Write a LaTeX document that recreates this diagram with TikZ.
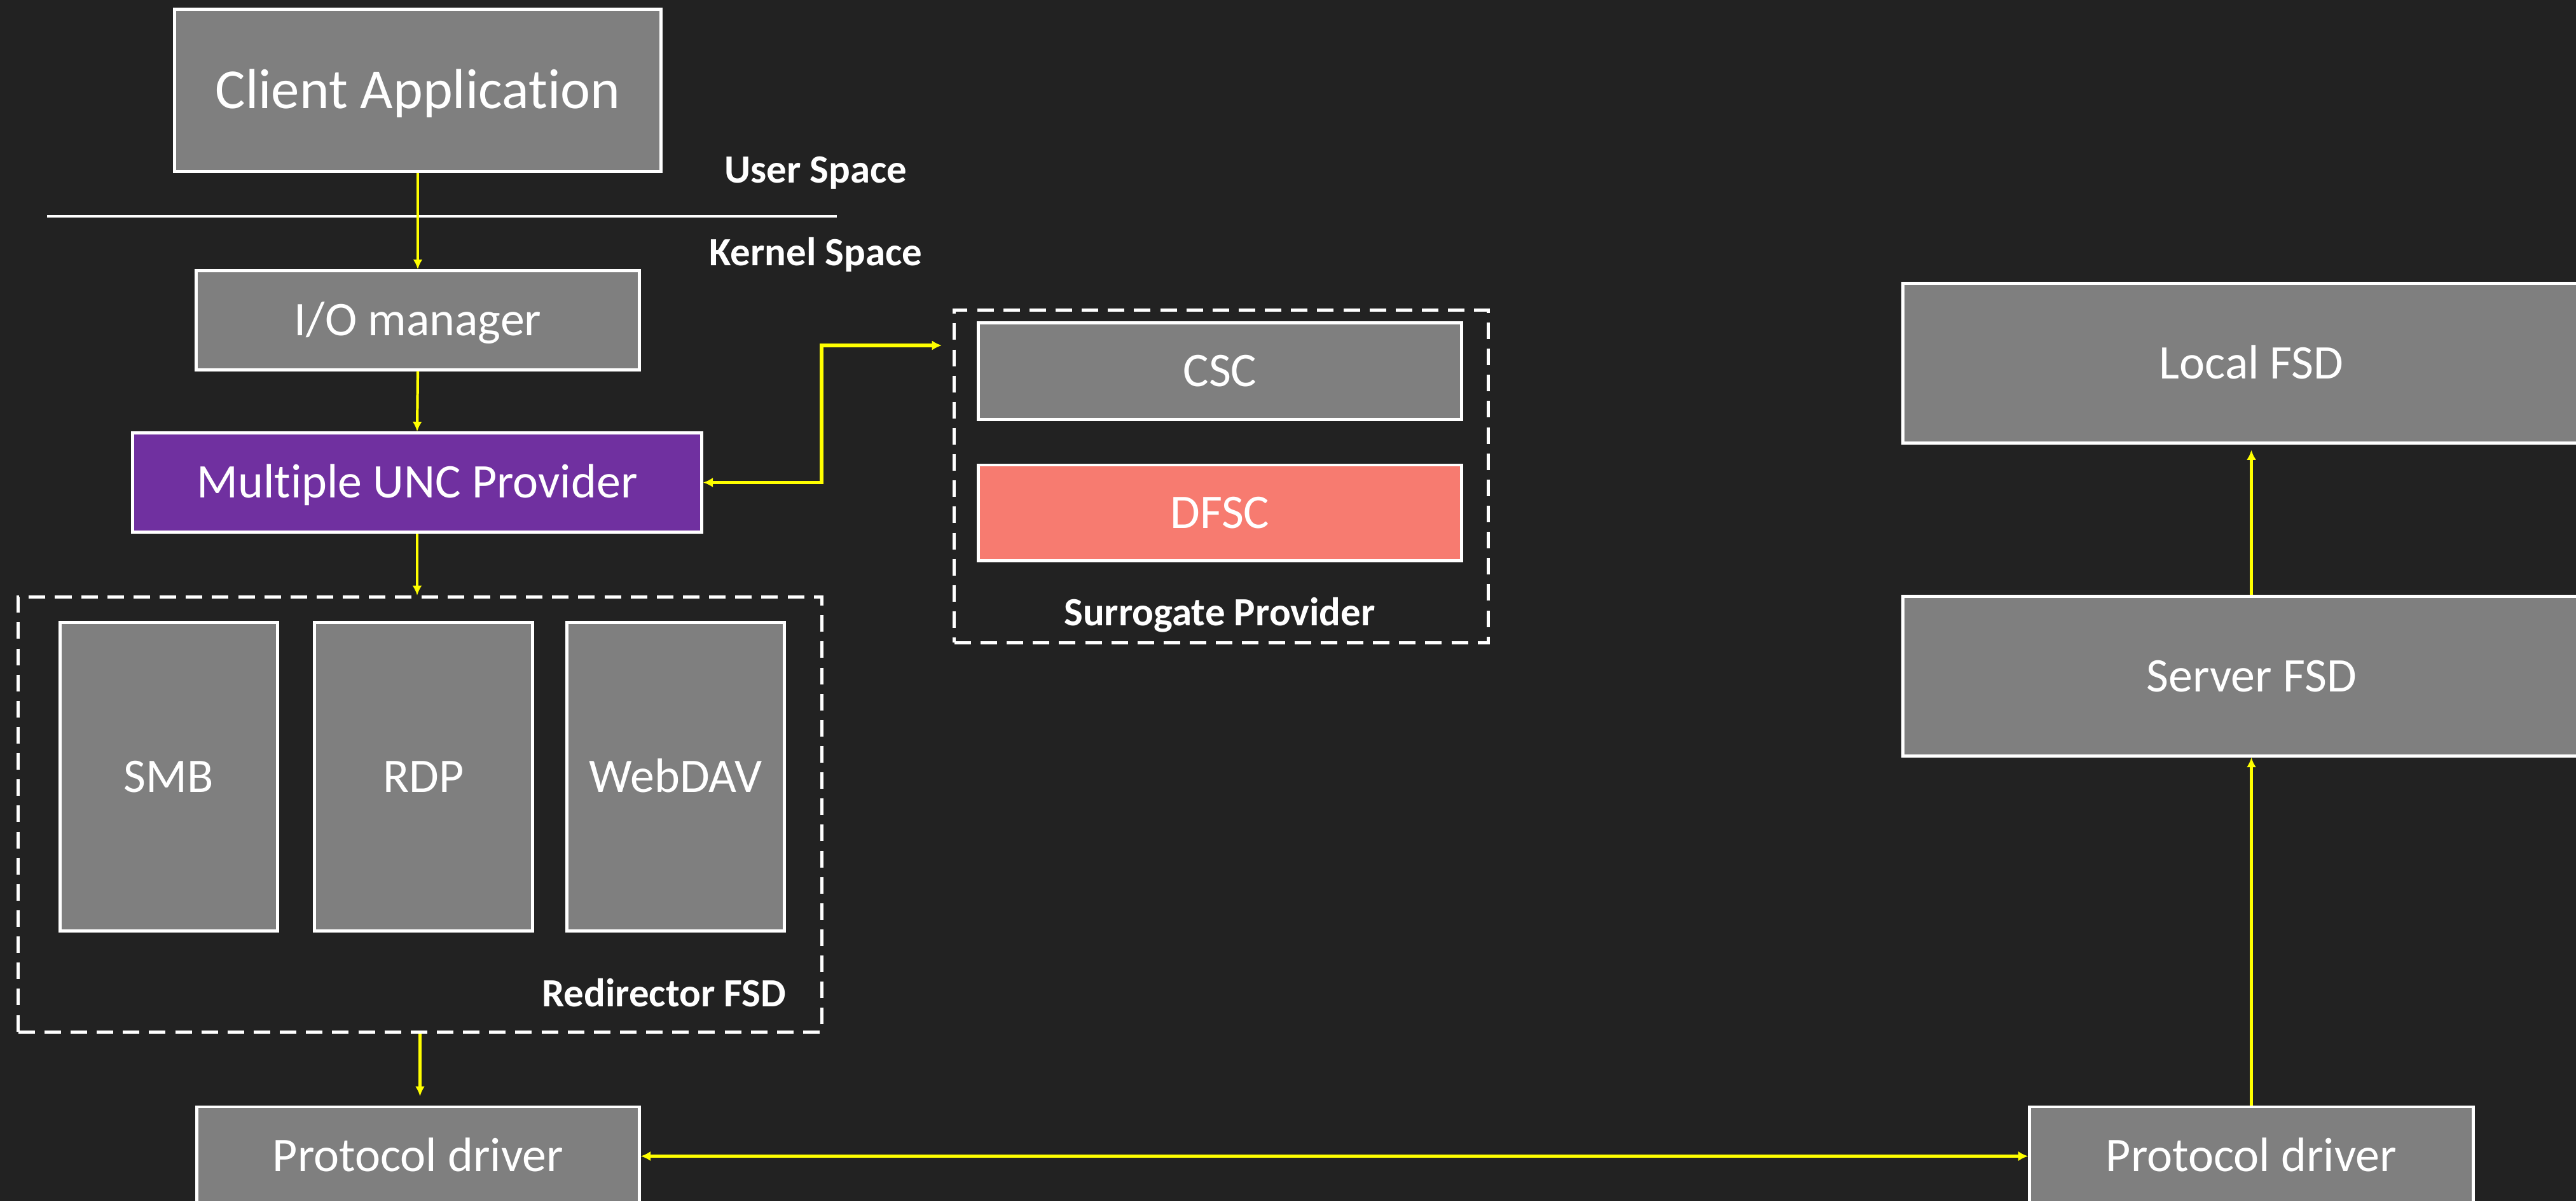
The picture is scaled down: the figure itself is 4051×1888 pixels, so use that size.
\documentclass[tikz,border=0pt]{standalone}
\usepackage{fontspec}
\setmainfont{Carlito}[Ligatures=NoCommon]
\usetikzlibrary{arrows.meta,calc}

\definecolor{bgdark}{RGB}{34,34,34}
\definecolor{boxgray}{RGB}{127,127,127}
\definecolor{mupviolet}{RGB}{112,48,160}
\definecolor{dfscred}{RGB}{247,123,112}
\definecolor{flowyellow}{RGB}{255,255,0}

\tikzset{
  % text boxes sized to the capital height so that capitals sit centred
  blk/.style={draw=white, line width=1.4pt, fill=boxgray, text=white,
    inner sep=0pt, font=\fontsize{21.6}{26}\selectfont,
    text height=13.9pt, text depth=0pt},
  bigblk/.style={blk, font=\fontsize{25.3}{30}\selectfont, text height=16.3pt},
  group/.style={draw=white, line width=1.5pt, dash pattern=on 7.4pt off 4.3pt,
    inner sep=0pt},
  grouplabel/.style={text=white, inner sep=0pt,
    font=\bfseries\fontsize{17.9}{21}\selectfont,
    text height=11.5pt, text depth=0pt},
  flow/.style={draw=flowyellow, line width=1.2pt,
    -{Latex[length=4.4pt,width=4.2pt]}},
  biflow/.style={draw=flowyellow, line width=1.45pt,
    {Latex[length=4.4pt,width=4.4pt]}-{Latex[length=4.4pt,width=4.4pt]}},
}

\begin{document}
\begin{tikzpicture}[x=0.01cm, y=-0.01cm]
  \useasboundingbox (0,0) rectangle (4051,1888);
  \fill[bgdark] (0,0) rectangle (4051,1888);
  \clip (0,0) rectangle (4051,1888);

  % user / kernel boundary
  \coordinate (sepL) at (74,340);
  \coordinate (sepR) at (1316,340);
  \draw[white, line width=1.35pt] (sepL) -- (sepR);
  \node[grouplabel] (user) at (1283,267) {User Space};
  \node[grouplabel] (kernel) at (1283,397) {Kernel Space};

  % client side stack
  \node[bigblk, minimum width=7.64cm, minimum height=2.54cm] (client) at (657,142) {Client Application};
  \node[blk, minimum width=6.96cm, minimum height=1.55cm] (io) at (657,503.5) {I/O manager};
  \node[blk, fill=mupviolet, minimum width=8.94cm, minimum height=1.55cm] (mup) at (656,758.5) {Multiple UNC Provider};

  % redirector group
  \node[group, minimum width=12.63cm, minimum height=6.83cm] (redir) at (660.5,1280.5) {};
  \node[blk, minimum width=3.41cm, minimum height=4.84cm] (smb) at (265.5,1221) {SMB};
  \node[blk, minimum width=3.42cm, minimum height=4.84cm] (rdp) at (666,1221) {RDP};
  \node[blk, minimum width=3.41cm, minimum height=4.84cm] (webdav) at (1062.5,1221) {WebDAV};
  \node[grouplabel, anchor=east] (redirlbl) at (1237,1562) {Redirector FSD};

  % surrogate provider group
  \node[group, minimum width=8.39cm, minimum height=5.22cm] (surr) at (1920.5,749) {};
  \node[blk, minimum width=7.59cm, minimum height=1.51cm] (csc) at (1918.5,583.5) {CSC};
  \node[blk, fill=dfscred, minimum width=7.59cm, minimum height=1.50cm] (dfsc) at (1918.5,806) {DFSC};
  \node[grouplabel] (surrlbl) at (1918,963) {Surrogate Provider};

  % protocol drivers
  \node[blk, minimum width=6.95cm, minimum height=1.55cm] (pdl) at (657.5,1817.5) {Protocol driver};
  \node[blk, minimum width=6.97cm, minimum height=1.55cm] (pdr) at (3540.5,1817.5) {Protocol driver};

  % server side stack
  \node[blk, minimum width=10.95cm, minimum height=2.50cm] (server) at (3540.5,1063) {Server FSD};
  \node[blk, minimum width=10.95cm, minimum height=2.50cm] (local) at (3540.5,571) {Local FSD};

  % connectors
  \draw[flow] (client.south) -- (io.north);
  \draw[flow] (io.south) -- (mup.north);
  \draw[flow] (mup.south) -- (mup.south |- redir.north);
  \draw[flow, shorten >=4pt] (redir.south) -- (redir.south |- pdl.north);
  \coordinate (surrbend) at (1292,543);
  \coordinate (surrin) at (1481,543);
  \draw[biflow] (mup.east) -| (surrbend) -- (surrin);
  \draw[biflow] (pdl.east) -- (pdr.west);
  \draw[flow] (pdr.north) -- (server.south);
  \draw[flow, shorten >=2.5pt] (server.north) -- (local.south);
\end{tikzpicture}
\end{document}
